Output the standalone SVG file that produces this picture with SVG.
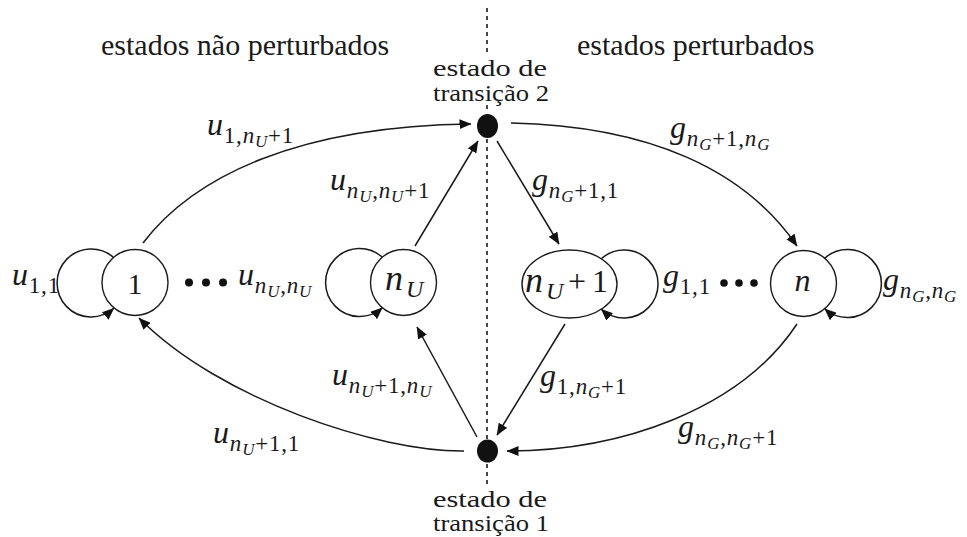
<svg xmlns="http://www.w3.org/2000/svg" width="967" height="537" viewBox="0 0 967 537">
<style>
  .t { font-family: "Liberation Serif", "Times New Roman", serif; font-size: 30px; fill: #1a1a1a; }
  .tt { font-family: "Liberation Serif", "Times New Roman", serif; font-size: 23px; fill: #1a1a1a; }
  .m { font-family: "Liberation Serif", "Times New Roman", serif; font-size: 32px; fill: #1a1a1a; letter-spacing: 0.8px; }
  .i { font-style: italic; }
  .s { font-size: 23px; }
  .ss { font-size: 17px; }
  .node { fill: #ffffff; stroke: #1a1a1a; stroke-width: 1.4; }
  .edge { fill: none; stroke: #1a1a1a; stroke-width: 1.5; marker-end: url(#arr); }
  .dash { stroke: #1a1a1a; stroke-width: 1.6; stroke-dasharray: 4 4; fill: none; }
  .dot { fill: #111111; }
</style>
<defs>
  <marker id="arr" viewBox="0 0 12 10" refX="11.5" refY="5" markerWidth="12" markerHeight="10" markerUnits="userSpaceOnUse" orient="auto">
    <path d="M0,0 L12,5 L0,10 Z" fill="#111111"/>
  </marker>
</defs>
<rect width="967" height="537" fill="#ffffff"/>

<g id="separator">
  <line class="dash" x1="487" y1="8" x2="487" y2="52"/>
  <line class="dash" x1="487" y1="105" x2="487" y2="113"/>
  <line class="dash" x1="487" y1="139" x2="487" y2="439"/>
  <line class="dash" x1="487" y1="464" x2="487" y2="488"/>
</g>

<g id="headers">
  <text class="t" x="101" y="55">estados não perturbados</text>
  <text class="t" x="577" y="55">estados perturbados</text>
</g>

<g id="node1">
  <circle class="node" cx="135" cy="282.5" r="33"/>
  <text class="t" x="135" y="294" font-size="32" text-anchor="middle">1</text>
</g>
<g id="dotsU">
  <circle class="dot" cx="189" cy="282.5" r="4"/>
  <circle class="dot" cx="206" cy="282.5" r="4"/>
  <circle class="dot" cx="223" cy="282.5" r="4"/>
</g>
<g id="nodeNU">
  <circle class="node" cx="403.5" cy="282.5" r="33"/>
  <text class="m" y="290"><tspan x="385" class="i" font-size="36">n</tspan><tspan x="406" y="297" class="i" font-size="24">U</tspan></text>
</g>
<g id="nodeNU1">
  <ellipse class="node" cx="569.5" cy="284" rx="47.5" ry="34"/>
  <text class="m" y="292"><tspan x="525" class="i" font-size="36">n</tspan><tspan x="546" y="299" class="i" font-size="24">U</tspan><tspan x="568" y="292" font-size="32">+</tspan><tspan x="592" font-size="32">1</tspan></text>
</g>
<g id="dotsG">
  <circle class="dot" cx="724" cy="283" r="3.8"/>
  <circle class="dot" cx="739" cy="283" r="3.8"/>
  <circle class="dot" cx="754" cy="283" r="3.8"/>
</g>
<g id="nodeN">
  <circle class="node" cx="803.5" cy="283.5" r="33"/>
  <text class="m i" x="803" y="291" font-size="36" text-anchor="middle">n</text>
</g>
<g id="transition2">
  <ellipse class="dot" cx="487.5" cy="126" rx="10.5" ry="12"/>
  <text class="tt" x="490" y="76" text-anchor="middle" textLength="114" lengthAdjust="spacingAndGlyphs">estado de</text>
  <text class="tt" x="491" y="101" text-anchor="middle" textLength="116" lengthAdjust="spacingAndGlyphs">transição 2</text>
</g>
<g id="transition1">
  <ellipse class="dot" cx="487.5" cy="451" rx="10.5" ry="11.5"/>
  <text class="tt" x="490" y="507" text-anchor="middle" textLength="114" lengthAdjust="spacingAndGlyphs">estado de</text>
  <text class="tt" x="491" y="531" text-anchor="middle" textLength="116" lengthAdjust="spacingAndGlyphs">transição 1</text>
</g>

<g id="connectors">
  <path class="edge" d="M113.8,257.7 A34,34 0 1,0 113.8,308.3"/>
  <path class="edge" d="M382.3,257.2 A34,34 0 1,0 382.3,307.8"/>
  <path class="edge" d="M601.2,258.8 A34,34 0 1,1 601.2,309.2"/>
  <path class="edge" d="M824.7,258.2 A34,34 0 1,1 824.7,308.8"/>
  <path class="edge" d="M143,243 C195,175 300,126 471,124"/>
  <path class="edge" d="M511,123 C650,126 745,170 797,246"/>
  <path class="edge" d="M415,246 L478,141"/>
  <path class="edge" d="M497,141 L559,244"/>
  <path class="edge" d="M477,437 L417,327"/>
  <path class="edge" d="M565,324 L497,435"/>
  <path class="edge" d="M464,451 C380,452 220,400 139,318"/>
  <path class="edge" d="M797,324 C740,410 620,451 507,451"/>
</g>

<g id="labels">
  <text class="m" x="207" y="135"><tspan class="i">u</tspan><tspan class="s" y="143">1,</tspan><tspan class="s i">n</tspan><tspan class="ss i" y="147">U</tspan><tspan class="s" y="143">+1</tspan></text>
  <text class="m" x="12" y="285"><tspan class="i">u</tspan><tspan class="s" y="293">1,1</tspan></text>
  <text class="m" x="238" y="285"><tspan class="i">u</tspan><tspan class="s i" y="293">n</tspan><tspan class="ss i" y="297">U</tspan><tspan class="s" y="293">,</tspan><tspan class="s i">n</tspan><tspan class="ss i" y="297">U</tspan></text>
  <text class="m" x="330" y="190"><tspan class="i">u</tspan><tspan class="s i" y="198">n</tspan><tspan class="ss i" y="202">U</tspan><tspan class="s" y="198">,</tspan><tspan class="s i">n</tspan><tspan class="ss i" y="202">U</tspan><tspan class="s" y="198">+1</tspan></text>
  <text class="m" x="532" y="190"><tspan class="i">g</tspan><tspan class="s i" y="198">n</tspan><tspan class="ss i" y="202">G</tspan><tspan class="s" y="198">+1,1</tspan></text>
  <text class="m" x="670" y="138"><tspan class="i">g</tspan><tspan class="s i" y="146">n</tspan><tspan class="ss i" y="150">G</tspan><tspan class="s" y="146">+1,</tspan><tspan class="s i">n</tspan><tspan class="ss i" y="150">G</tspan></text>
  <text class="m" x="663" y="286"><tspan class="i">g</tspan><tspan class="s" y="294">1,1</tspan></text>
  <text class="m" x="883" y="290"><tspan class="i">g</tspan><tspan class="s i" y="298">n</tspan><tspan class="ss i" y="302">G</tspan><tspan class="s" y="298">,</tspan><tspan class="s i">n</tspan><tspan class="ss i" y="302">G</tspan></text>
  <text class="m" x="332" y="385"><tspan class="i">u</tspan><tspan class="s i" y="393">n</tspan><tspan class="ss i" y="397">U</tspan><tspan class="s" y="393">+1,</tspan><tspan class="s i">n</tspan><tspan class="ss i" y="397">U</tspan></text>
  <text class="m" x="213" y="443"><tspan class="i">u</tspan><tspan class="s i" y="451">n</tspan><tspan class="ss i" y="455">U</tspan><tspan class="s" y="451">+1,1</tspan></text>
  <text class="m" x="540" y="386"><tspan class="i">g</tspan><tspan class="s" y="394">1,</tspan><tspan class="s i">n</tspan><tspan class="ss i" y="398">G</tspan><tspan class="s" y="394">+1</tspan></text>
  <text class="m" x="678" y="437"><tspan class="i">g</tspan><tspan class="s i" y="445">n</tspan><tspan class="ss i" y="449">G</tspan><tspan class="s" y="445">,</tspan><tspan class="s i">n</tspan><tspan class="ss i" y="449">G</tspan><tspan class="s" y="445">+1</tspan></text>
</g>
</svg>
